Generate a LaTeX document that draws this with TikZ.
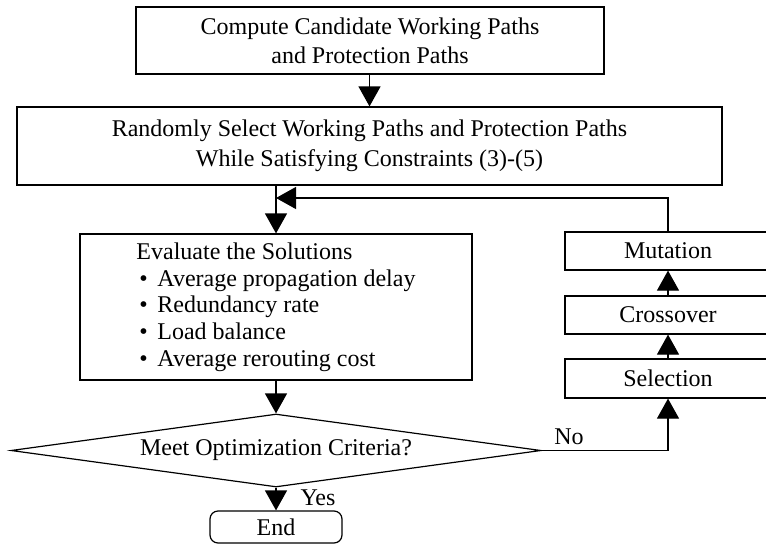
\documentclass[tikz,border=0pt]{standalone}
\usepackage{fontspec}
\setmainfont{Liberation Serif}
\usetikzlibrary{arrows.meta,shapes.geometric}
\begin{document}
\begin{tikzpicture}[x=0.75pt,y=-0.75pt,
  line/.style={draw=black, line width=0.9pt},
  box/.style={line, rectangle, inner sep=0pt, font=\fontsize{18}{21.5}\selectfont, align=center},
  arr/.style={line, -{Triangle[length=15pt,width=16.5pt]}},
  lbl/.style={font=\fontsize{18}{21.5}\selectfont, inner sep=0pt}]
\useasboundingbox (0,0) rectangle (766,546);
\node[box, minimum width=351pt, minimum height=50.25pt] (b1) at (370,40.5)
  {Compute Candidate Working Paths\\and Protection Paths};
\node[box, minimum width=528.75pt, minimum height=58.5pt, font=\fontsize{18}{22.5}\selectfont] (b2) at (369.5,146)
  {Randomly Select Working Paths and Protection Paths\\While Satisfying Constraints (3)-(5)};
\node[box, minimum width=294pt, minimum height=109.5pt, align=left, font=\fontsize{18}{20}\selectfont] (ev) at (276,307)
  {Evaluate the Solutions\\
   \hspace*{2.25pt}\makebox[13.5pt][l]{\textbullet}Average propagation delay\\
   \hspace*{2.25pt}\makebox[13.5pt][l]{\textbullet}Redundancy rate\\
   \hspace*{2.25pt}\makebox[13.5pt][l]{\textbullet}Load balance\\
   \hspace*{2.25pt}\makebox[13.5pt][l]{\textbullet}Average rerouting cost};
\node[line, diamond, aspect=7.26, minimum width=397.5pt, minimum height=54.75pt, inner sep=0pt,
  font=\fontsize{18}{21.5}\selectfont] (dia) at (276,450.5) {Meet Optimization Criteria?};
\node[box, rounded corners=6pt, minimum width=99pt, minimum height=24pt] (end) at (276,527) {End};
\node[box, minimum width=154.5pt, minimum height=28.5pt] (mut) at (668,251) {Mutation};
\node[box, minimum width=154.5pt, minimum height=28.5pt] (cro) at (668,315) {Crossover};
\node[box, minimum width=154.5pt, minimum height=29.25pt] (sel) at (668,378.5) {Selection};
\coordinate (fb) at (276,198);
\draw[arr] (b1.south -| b2.north) -- (b2.north);
\draw[arr] (b2.south -| ev.north) -- (ev.north);
\draw[arr] (ev.south) -- (dia.north);
\draw[arr] (dia.south) -- (end.north);
\draw[arr] (dia.east) -- (dia.east -| sel.south) -- (sel.south);
\draw[arr] (sel.north) -- (cro.south);
\draw[arr] (cro.north) -- (mut.south);
\draw[arr] (mut.north) |- (fb);
\node[lbl] (no) at (569,437) {No};
\node[lbl] (yes) at (318,498) {Yes};
\end{tikzpicture}
\end{document}
